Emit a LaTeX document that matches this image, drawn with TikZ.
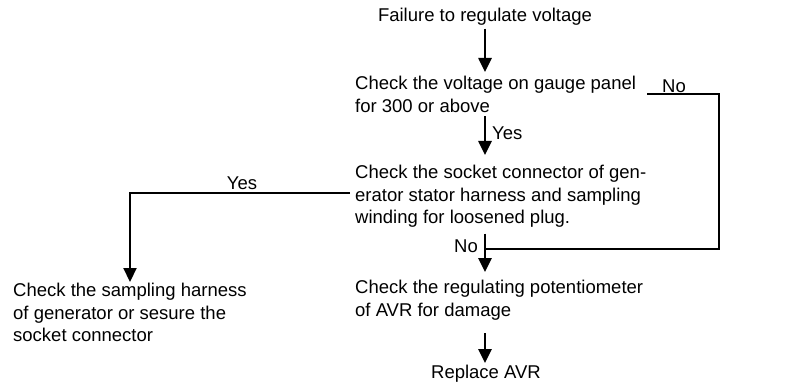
\documentclass[tikz,border=0pt]{standalone}
\usepackage{fontspec}
\setmainfont{Liberation Sans}
\usetikzlibrary{arrows.meta, positioning, calc}
\begin{document}
\begin{tikzpicture}[
    x=1pt, y=-1pt,
    ftext/.style={inner sep=0pt, anchor=north west, align=left, font=\fontsize{18.5}{22.5}\selectfont},
    flabel/.style={inner sep=0pt, font=\fontsize{18.5}{22.5}\selectfont},
    farrow/.style={-{Triangle[length=14pt, width=13pt]}, line width=2.6pt},
    fline/.style={line width=2.2pt}
]
\useasboundingbox (0,0) rectangle (789,382);
\coordinate (col) at (485,0);
\node[flabel, anchor=north] (fail) at (485,8) {Failure to regulate voltage};
\node[ftext] (volt) at (355,76) {Check the voltage on gauge panel\\for 300 or above};
\node[ftext] (sock) at (355,165) {Check the socket connector of gen-\\erator stator harness and sampling\\winding for loosened plug.};
\node[ftext] (samp) at (13,283) {Check the sampling harness\\of generator or sesure the\\socket connector};
\node[ftext] (pot) at (355,280) {Check the regulating potentiometer\\of AVR for damage};
\node[flabel, anchor=north] (avr) at (486,365) {Replace AVR};
\node[flabel, anchor=north west] (yesA) at (492,127) {Yes};
\node[flabel, anchor=north west] (noA) at (662,80) {No};
\node[flabel, anchor=north] (yesB) at (242,177) {Yes};
\node[flabel, anchor=north east] (noB) at (478,240) {No};
\coordinate (loopA) at (647,94);
\coordinate (loopB) at (719,249);
\coordinate (sampTip) at (130,282);
\draw[farrow, shorten <=3pt, shorten >=4pt] (fail.south -| col) -- (volt.north -| col);
\draw[farrow, shorten <=4pt, shorten >=10pt] (volt.south -| col) -- (sock.north -| col);
\draw[farrow, shorten <=6pt, shorten >=8pt] (sock.south -| col) -- (pot.north -| col);
\draw[farrow, shorten <=13pt, shorten >=2pt] (pot.south -| col) -- (avr.north -| col);
\draw[fline] (loopA) -| (loopB) -- (loopB -| col);
\draw[farrow, line width=2.2pt] ([xshift=-5pt, yshift=3pt]sock.west) -| (sampTip);
\end{tikzpicture}
\end{document}
